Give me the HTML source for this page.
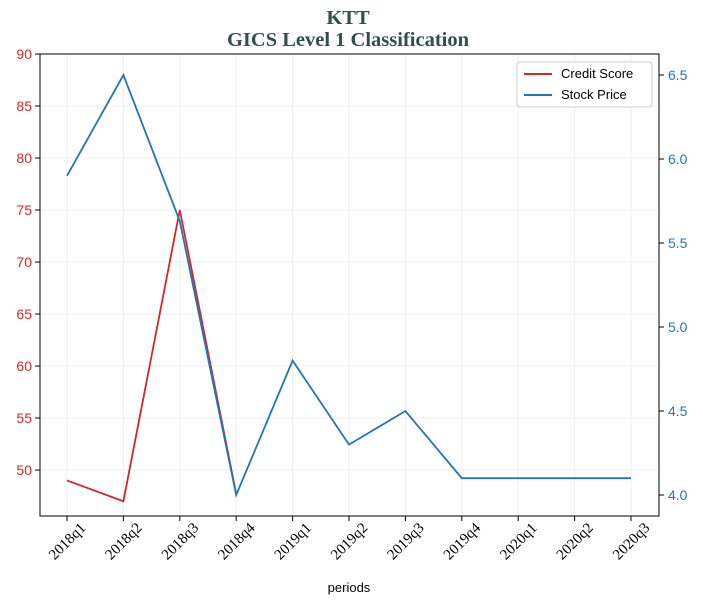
<!DOCTYPE html>
<html><head><meta charset="utf-8"><style>
body{margin:0;background:#fff;}
svg text{font-family:"Liberation Sans",sans-serif;}
</style></head><body>
<svg id="c" width="703" height="605" xmlns="http://www.w3.org/2000/svg">
<text x="348" y="24" text-anchor="middle" font-size="20.5" font-weight="bold" fill="#2F4F4F" style="font-family:'Liberation Serif',serif">KTT</text>
<text x="348" y="46" text-anchor="middle" font-size="20.5" font-weight="bold" fill="#2F4F4F" style="font-family:'Liberation Serif',serif">GICS Level 1 Classification</text>
<g id="grid"></g><g id="marks"></g><g id="axes"></g>
<text x="349" y="592" text-anchor="middle" font-size="13" fill="#000">periods</text>
<g>
<rect x="517" y="62" width="135" height="45" rx="3" fill="#fff" stroke="#ccc"/>
<line x1="524" y1="74" x2="552" y2="74" stroke="#d62728" stroke-width="2"/>
<text x="561" y="78" font-size="13">Credit Score</text>
<line x1="524" y1="95" x2="552" y2="95" stroke="#1f77b4" stroke-width="2"/>
<text x="561" y="99" font-size="13">Stock Price</text>
</g>
</svg>
<script>
const categories=["2018q1","2018q2","2018q3","2018q4","2019q1","2019q2","2019q3","2019q4","2020q1","2020q2","2020q3"];
const creditScore=[49,47,75,47.7,null,null,null,null,null,null,null];
const stockPrice=[5.9,6.5,5.63,4.0,4.8,4.3,4.5,4.1,4.1,4.1,4.1];
const leftTicks=[50,55,60,65,70,75,80,85,90];
const rightTicks=[4.0,4.5,5.0,5.5,6.0,6.5];
const L=40,R=659,T=54,B=516;
const lMin=45.58,lMax=90,rMin=3.875,rMax=6.625;
const NS="http://www.w3.org/2000/svg";
const x=i=>67+i*(631-67)/(categories.length-1);
const yl=v=>B-(v-lMin)/(lMax-lMin)*(B-T);
const yr=v=>B-(v-rMin)/(rMax-rMin)*(B-T);
function mk(t,a,p){const e=document.createElementNS(NS,t);for(const k in a)e.setAttribute(k,a[k]);p.appendChild(e);return e;}
const g=document.getElementById('grid'),m=document.getElementById('marks'),ax=document.getElementById('axes');
categories.forEach((c,i)=>{
 const gl=mk('line',{x1:x(i),x2:x(i),y1:T,y2:B,stroke:'#efefef'},g);
 
 
 const tk=mk('line',{x1:x(i),x2:x(i),y1:B,y2:B+5,stroke:'#000'},ax);
 
 
 const cx=x(i),cy=B+25;
 const t=mk('text',{x:cx,y:cy+5,'text-anchor':'middle','font-size':15,transform:`rotate(-45 ${cx} ${cy})`,style:"font-family:'Liberation Serif',serif"},ax);
 t.textContent=c;
 
 
});
leftTicks.forEach(v=>{
 const gl=mk('line',{x1:L,x2:R,y1:yl(v),y2:yl(v),stroke:'#efefef'},g);
 
 
 mk('line',{x1:L-5,x2:L,y1:yl(v),y2:yl(v),stroke:'#000'},ax);
 const t=mk('text',{x:L-8,y:yl(v)+5,'text-anchor':'end','font-size':14,fill:'#d62728'},ax);
 t.textContent=v;
 
 
});
rightTicks.forEach(v=>{
 mk('line',{x1:R,x2:R+5,y1:yr(v),y2:yr(v),stroke:'#000'},ax);
 const t=mk('text',{x:R+9,y:yr(v)+5,'font-size':14,fill:'#1f77b4'},ax);
 t.textContent=v.toFixed(1);
 
 
});
const fr=mk('rect',{x:L,y:T,width:R-L,height:B-T,fill:'none',stroke:'#000'},ax);


let p1=[];creditScore.forEach((v,i)=>{if(v!==null)p1.push(x(i)+','+yl(v));});
const l1=mk('polyline',{points:p1.join(' '),fill:'none',stroke:'#d62728','stroke-width':1.8},m);


const l2=mk('polyline',{points:stockPrice.map((v,i)=>x(i)+','+yr(v)).join(' '),fill:'none',stroke:'#1f77b4','stroke-width':1.8},m);


</script>
</body></html>
